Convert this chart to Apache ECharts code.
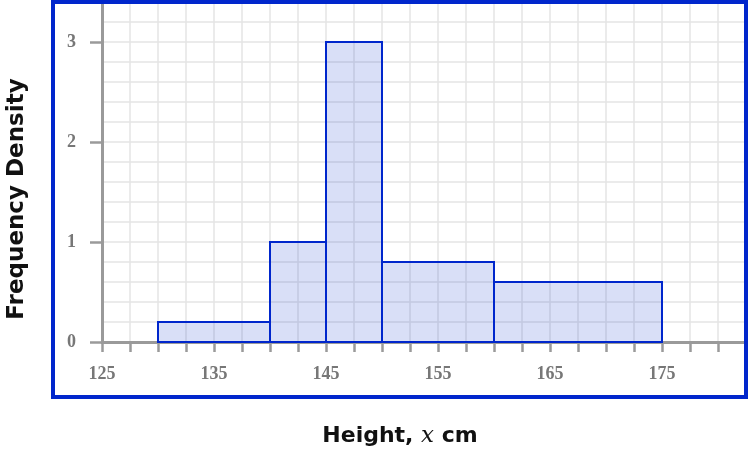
<!DOCTYPE html>
<html><head><meta charset="utf-8">
<script src="https://cdn.jsdelivr.net/npm/echarts@6/dist/echarts.min.js"></script>
<style>html,body{margin:0;padding:0;background:#fff}#c{width:748px;height:452px}</style>
</head><body><div id="c"></div>
<script>
// Class intervals (cm) and frequency densities
const classStart = [130, 140, 145, 150, 160];
const classEnd   = [140, 145, 150, 160, 175];
const density    = [0.2, 1.0, 3.0, 0.8, 0.6];
const xLabels = [125, 135, 145, 155, 165, 175];
const yLabels = [0, 1, 2, 3];

const data = classStart.map((s, i) => [s, classEnd[i], density[i]]);
const chart = echarts.init(document.getElementById('c'));
const labelStyle = {color: '#777', fontFamily: 'Liberation Serif', fontWeight: 'bold', fontSize: 18};
chart.setOption({
  animation: false,
  grid: {left: 102, right: 2, top: 2, bottom: 110, containLabel: false},
  xAxis: {
    type: 'value', min: 125, max: 182.5, interval: 2.5,
    axisLine: {show: true, onZero: false, lineStyle: {color: '#9a9a9a', width: 3}},
    axisTick: {show: true, length: 10, lineStyle: {color: '#9a9a9a', width: 2.5}},
    axisLabel: Object.assign({margin: 23, showMaxLabel: false,
      formatter: v => xLabels.indexOf(v) >= 0 ? String(v) : ''}, labelStyle),
    splitLine: {show: true, lineStyle: {color: '#e4e4e4', width: 1.5}}
  },
  yAxis: [{
    type: 'value', min: 0, max: 3.4, interval: 1,
    axisLine: {show: true, lineStyle: {color: '#9a9a9a', width: 3}},
    axisTick: {show: true, length: 12, lineStyle: {color: '#9a9a9a', width: 2.5}},
    axisLabel: Object.assign({margin: 26, showMaxLabel: false,
      formatter: v => yLabels.indexOf(v) >= 0 ? String(v) : ''}, labelStyle),
    splitLine: {show: false}
  }, {
    type: 'value', min: 0, max: 3.4, interval: 0.2, position: 'left',
    axisLine: {show: false}, axisTick: {show: false}, axisLabel: {show: false},
    splitLine: {show: true, lineStyle: {color: '#e4e4e4', width: 1.5}}
  }],
  series: [{
    type: 'custom',
    yAxisIndex: 0,
    data: data,
    renderItem: function (params, api) {
      const p0 = api.coord([api.value(0), 0]);
      const p1 = api.coord([api.value(1), api.value(2)]);
      return {
        type: 'rect',
        shape: {x: p0[0], y: p1[1], width: p1[0] - p0[0], height: p0[1] - p1[1]},
        style: {fill: 'rgba(0,38,204,0.15)', stroke: '#0026cc', lineWidth: 2}
      };
    },
    z: 3
  }],
  graphic: [
    {type: 'rect', shape: {x: 53, y: 2, width: 693, height: 395},
     style: {fill: 'none', stroke: '#0026cc', lineWidth: 4}, z: 100},
    {type: 'text', x: 17, y: 199, rotation: Math.PI / 2,
     style: {text: 'Frequency Density', font: 'bold 23px "DejaVu Sans"', fill: '#111',
             textAlign: 'center', textVerticalAlign: 'middle'}},
    {type: 'text', x: 400, y: 436,
     style: {text: '{a|Height, }{b|x}{a| cm}', textAlign: 'center', textVerticalAlign: 'middle',
       rich: {a: {fontFamily: 'DejaVu Sans', fontWeight: 'bold', fontSize: 22, fill: '#111'},
              b: {fontFamily: 'DejaVu Serif', fontStyle: 'italic', fontSize: 23, fill: '#111'}}}}
  ]
});
</script></body></html>
